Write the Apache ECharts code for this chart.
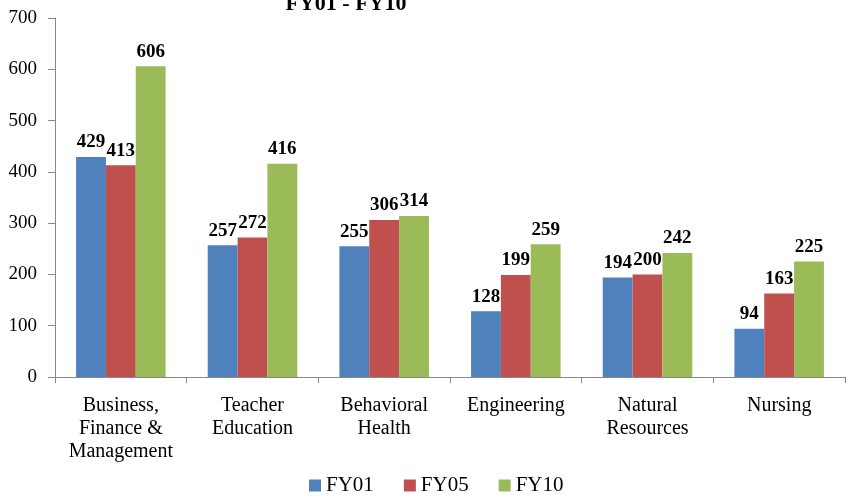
<!DOCTYPE html>
<html>
<head>
<meta charset="utf-8">
<script src="https://cdn.jsdelivr.net/npm/echarts@6/dist/echarts.min.js"></script>
<style>
html,body{margin:0;padding:0;background:#fff;}
#chart{width:849px;height:497px;}
</style>
</head>
<body>
<div id="chart"></div>
<script>
var categories = ['Business,\nFinance &\nManagement', 'Teacher\nEducation', 'Behavioral\nHealth', 'Engineering', 'Natural\nResources', 'Nursing'];
var fy01 = [429, 257, 255, 128, 194, 94];
var fy05 = [413, 272, 306, 199, 200, 163];
var fy10 = [606, 416, 314, 259, 242, 225];
var seriesNames = ['FY01', 'FY05', 'FY10'];
var colors = ['#4f81bd', '#c0504d', '#9bbb59'];

var font = '"Liberation Serif", "DejaVu Serif", serif';
var myChart = echarts.init(document.getElementById('chart'));

function makeSeries(name, data, color){
    return {
        name: name,
        type: 'bar',
        data: data,
        barGap: '0%',
        barCategoryGap: '32%',
        itemStyle: {color: color},
        label: {
            show: true,
            position: 'top',
            distance: 5,
            color: '#000',
            fontFamily: font,
            fontWeight: 'bold',
            fontSize: 19
        }
    };
}

var option = {
    animation: false,
    title: {
        text: 'FY01 - FY10',
        left: 341,
        textAlign: 'center',
        top: -12,
        textStyle: {fontFamily: font, fontWeight: 'bold', fontSize: 22, color: '#000'}
    },
    legend: {
        bottom: -4,
        left: 304,
        itemWidth: 12,
        itemHeight: 12,
        itemGap: 30,
        icon: 'rect',
        textStyle: {fontFamily: font, fontSize: 21, color: '#000'},
        data: seriesNames
    },
    grid: {left: 55, right: 4, top: 18, bottom: 120, containLabel: false},
    xAxis: {
        type: 'category',
        data: categories,
        axisLine: {lineStyle: {color: '#888'}},
        axisTick: {show: true, alignWithLabel: false, length: 6, lineStyle: {color: '#888'}},
        axisLabel: {fontFamily: font, fontSize: 20, color: '#000', lineHeight: 23, margin: 17, interval: 0}
    },
    yAxis: {
        type: 'value',
        min: 0,
        max: 700,
        interval: 100,
        axisLine: {show: true, lineStyle: {color: '#888'}},
        axisTick: {show: true, length: 7, lineStyle: {color: '#888'}},
        splitLine: {show: false},
        axisLabel: {fontFamily: font, fontSize: 19, color: '#000', margin: 18}
    },
    series: [
        makeSeries(seriesNames[0], fy01, colors[0]),
        makeSeries(seriesNames[1], fy05, colors[1]),
        makeSeries(seriesNames[2], fy10, colors[2])
    ]
};
myChart.setOption(option);
</script>
</body>
</html>
